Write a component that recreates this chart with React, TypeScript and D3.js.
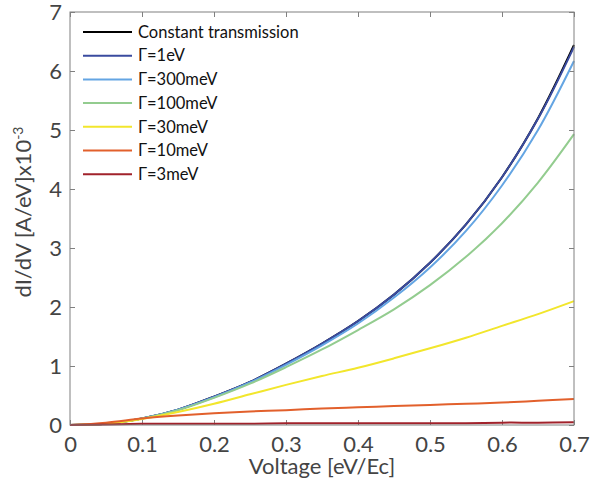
import React, { useEffect, useRef } from 'react';
import * as d3 from 'd3';

// voltage samples (eV/Ec)
const voltage = [0, 0.05, 0.1, 0.15, 0.2, 0.25, 0.3, 0.35, 0.4, 0.45, 0.5, 0.55, 0.6, 0.65, 0.7];

// dI/dV values x10^-3
const constantT = [0, 0.02, 0.11, 0.26, 0.48, 0.73, 1.04, 1.38, 1.76, 2.21, 2.75, 3.4, 4.2, 5.2, 6.44];
const gamma1eV = [0, 0.02, 0.11, 0.26, 0.48, 0.73, 1.04, 1.38, 1.76, 2.21, 2.75, 3.4, 4.2, 5.19, 6.41];
const gamma300 = [0, 0.02, 0.11, 0.26, 0.47, 0.72, 1.02, 1.35, 1.72, 2.16, 2.67, 3.29, 4.06, 5.0, 6.17];
const gamma100 = [0, 0.02, 0.11, 0.25, 0.46, 0.7, 0.98, 1.28, 1.61, 1.96, 2.37, 2.85, 3.42, 4.11, 4.93];
const gamma30 = [0, 0.02, 0.1, 0.22, 0.36, 0.52, 0.68, 0.83, 0.97, 1.13, 1.3, 1.48, 1.68, 1.88, 2.1];
const gamma10 = [0, 0.04, 0.11, 0.16, 0.2, 0.23, 0.25, 0.28, 0.3, 0.32, 0.34, 0.36, 0.38, 0.41, 0.44];
const gamma3 = [0, 0.01, 0.02, 0.02, 0.02, 0.02, 0.03, 0.03, 0.03, 0.03, 0.03, 0.03, 0.04, 0.04, 0.045];

const seriesNames = ['Constant transmission', 'Γ=1eV', 'Γ=300meV', 'Γ=100meV', 'Γ=30meV', 'Γ=10meV', 'Γ=3meV'];
const seriesValues = [constantT, gamma1eV, gamma300, gamma100, gamma30, gamma10, gamma3];
const seriesColors = ['#000000', '#3a4b9f', '#64a5e3', '#93cc8f', '#f2e62c', '#e2602c', '#a1222b'];

const xTicks = [0, 0.1, 0.2, 0.3, 0.4, 0.5, 0.6, 0.7];
const yTicks = [0, 1, 2, 3, 4, 5, 6, 7];

export default function App() {
  const chartRef = useRef<SVGSVGElement>(null);

  useEffect(() => {
    const svg = d3.select(chartRef.current);
    svg.selectAll('*').remove();

    const W = 609;
    const H = 482;
    const margin = { top: 12, right: 35, bottom: 57, left: 70 };
    const font = 'Lato, "Open Sans", sans-serif';
    const axisColor = '#808080';
    const textColor = '#444444';

    const x = d3.scaleLinear().domain([0, 0.7]).range([margin.left, W - margin.right]);
    const y = d3.scaleLinear().domain([0, 7]).range([H - margin.bottom, margin.top]);

    const styleAxis = (g: any) => {
      g.select('.domain').remove();
      g.selectAll('.tick line').attr('stroke', axisColor).attr('stroke-width', 1);
      g.selectAll('.tick text')
        .attr('fill', textColor)
        .attr('font-family', font)
        .attr('font-size', 22);
    };

    // axes (ticks pointing inward)
    svg.append('g')
      .attr('transform', `translate(0,${y(0)})`)
      .call(d3.axisBottom(x).tickValues(xTicks).tickSize(-5).tickPadding(11).tickFormat(d3.format('')))
      .call(styleAxis);
    svg.append('g')
      .attr('transform', `translate(0,${y(7)})`)
      .call(d3.axisTop(x).tickValues(xTicks).tickSize(-5).tickFormat(() => ''))
      .call(styleAxis);
    svg.append('g')
      .attr('transform', `translate(${x(0)},0)`)
      .call(d3.axisLeft(y).tickValues(yTicks).tickSize(-5).tickPadding(8).tickFormat(d3.format('d')))
      .call(styleAxis);
    svg.append('g')
      .attr('transform', `translate(${x(0.7)},0)`)
      .call(d3.axisRight(y).tickValues(yTicks).tickSize(-5).tickFormat(() => ''))
      .call(styleAxis);

    // curves
    const line = d3.line<number>()
      .x((d, i) => x(voltage[i]))
      .y(d => y(d))
      .curve(d3.curveCatmullRom.alpha(0.5));

    seriesValues.forEach((vals, k) => {
      svg.append('path')
        .datum(vals)
        .attr('fill', 'none')
        .attr('stroke', seriesColors[k])
        .attr('stroke-width', 2)
        .attr('d', line);
    });

    // plot box
    svg.append('rect')
      .attr('x', x(0))
      .attr('y', y(7))
      .attr('width', x(0.7) - x(0))
      .attr('height', y(0) - y(7))
      .attr('fill', 'none')
      .attr('stroke', axisColor)
      .attr('stroke-width', 1);

    // legend
    const legend = svg.append('g').attr('transform', 'translate(83,32)');
    seriesNames.forEach((name, i) => {
      const row = legend.append('g').attr('transform', `translate(0,${i * 23.7})`);
      row.append('line')
        .attr('x1', 0).attr('x2', 49)
        .attr('y1', 0).attr('y2', 0)
        .attr('stroke', seriesColors[i])
        .attr('stroke-width', 2);
      row.append('text')
        .attr('x', 55)
        .attr('y', 0)
        .attr('dy', '0.35em')
        .attr('font-family', font)
        .attr('font-size', 16.5)
        .attr('fill', '#111')
        .text(name);
    });

    // axis labels
    svg.append('text')
      .attr('x', (x(0) + x(0.7)) / 2)
      .attr('y', 474)
      .attr('text-anchor', 'middle')
      .attr('font-family', font)
      .attr('font-size', 22)
      .attr('fill', textColor)
      .text('Voltage [eV/Ec]');

    const yl = svg.append('text')
      .attr('transform', `translate(31,212) rotate(-90)`)
      .attr('text-anchor', 'middle')
      .attr('font-family', font)
      .attr('font-size', 22)
      .attr('fill', textColor);
    yl.append('tspan').text('dI/dV [A/eV]x10');
    yl.append('tspan').attr('dy', -8).attr('font-size', 14).text('-3');
  }, []);

  return (
    <div style={{ position: 'absolute', left: 0, top: 0 }}>
      <svg width={609} height={482} ref={chartRef} style={{ display: 'block', background: '#fff' }} />
    </div>
  );
}
